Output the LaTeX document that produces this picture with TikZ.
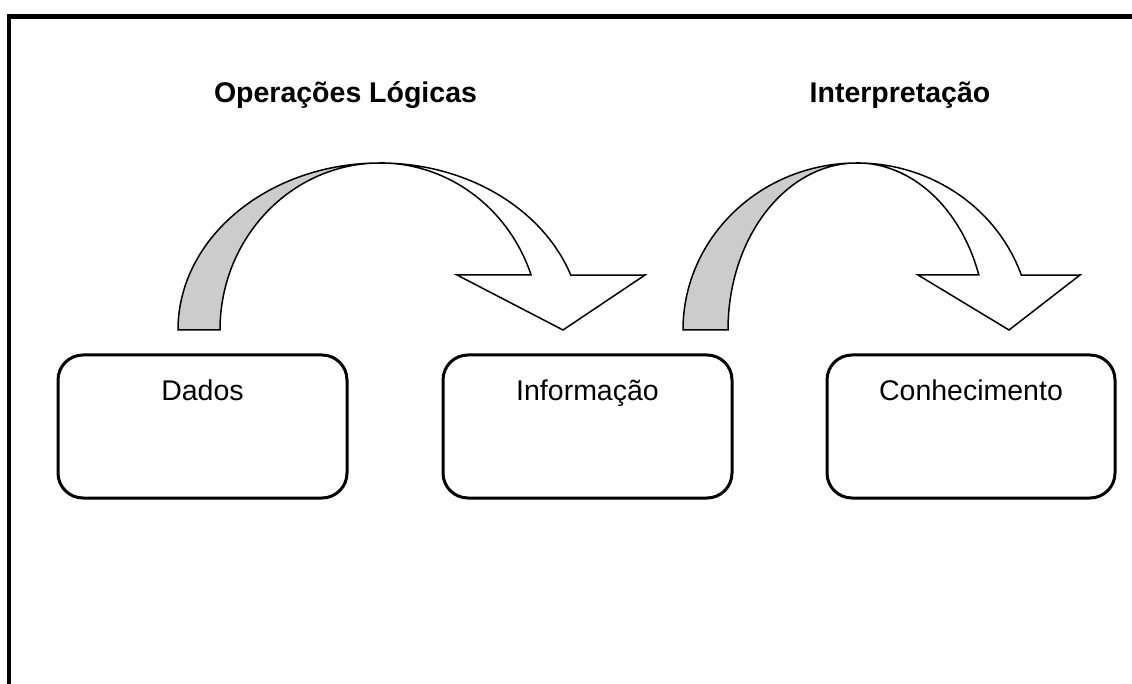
\documentclass[tikz,border=0pt]{standalone}
\usepackage{fontspec}
\setmainfont{Liberation Sans}
\definecolor{bandgrey}{RGB}{204,204,204}
\begin{document}
\begin{tikzpicture}[x=1pt,y=-1pt,
  box/.style={draw, line width=3pt, rounded corners=25pt,
    minimum width=289pt, minimum height=143pt, inner sep=0pt},
  boxtext/.style={anchor=base, inner sep=0pt,
    font=\fontsize{28.5}{34}\selectfont},
  heading/.style={anchor=base, inner sep=0pt,
    font=\fontsize{28.5}{34}\selectfont\bfseries},
  ribbon/.style={draw, line width=1.5pt, line join=miter}]
\useasboundingbox (0,0) rectangle (1132,684);

% outer frame (only its left and top edges fall on the page)
\draw[line width=4.5pt] (9,720) -- (9,16.5) -- (1160,16.5);

% boxes
\node[box] (dados) at (202.5,426.5) {};
\node[box] (info)  at (587.5,426.5) {};
\node[box, minimum width=288pt] (conh) at (971,426.5) {};
\node[boxtext] (tdados) at (202.5,400) {Dados};
\node[boxtext] (tinfo)  at (587.5,400) {Informação};
\node[boxtext] (tconh)  at (971,400)   {Conhecimento};

% headings
\node[heading] (oplog)  at (345.5,103) {Operações Lógicas};
\node[heading] (interp) at (900,103)   {Interpretação};

% curved ribbon arrow: Dados -> Informação
\draw[ribbon, fill=bandgrey] (178,330)
  arc[start angle=180, end angle=270, x radius=202, y radius=167]
  arc[start angle=270, end angle=180, x radius=160, y radius=167] -- cycle;
\draw[ribbon, fill=white] (380,163)
  arc[start angle=270, end angle=340.8, x radius=202, y radius=167]
  -- (645,275) -- (563,330) -- (457,275) -- (531.1,275)
  arc[start angle=340.8, end angle=270, x radius=160, y radius=167] -- cycle;

% curved ribbon arrow: Informação -> Conhecimento
\draw[ribbon, fill=bandgrey] (683,330)
  arc[start angle=180, end angle=270, x radius=174, y radius=167]
  arc[start angle=270, end angle=180, x radius=129, y radius=167] -- cycle;
\draw[ribbon, fill=white] (857,163)
  arc[start angle=270, end angle=340.8, x radius=174, y radius=167]
  -- (1080,275) -- (1009,330) -- (918,275) -- (978.8,275)
  arc[start angle=340.8, end angle=270, x radius=129, y radius=167] -- cycle;
\end{tikzpicture}
\end{document}
